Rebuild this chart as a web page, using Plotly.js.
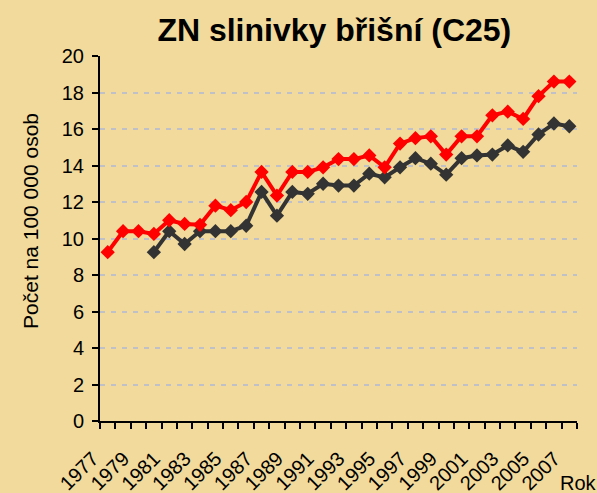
<!DOCTYPE html>
<html>
<head>
<meta charset="utf-8">
<script src="https://cdn.plot.ly/plotly-3.0.1.min.js"></script>
<style>html,body{margin:0;padding:0;background:#F1DA9B;}#chart{width:597px;height:493px;}</style>
</head>
<body>
<div id="chart"></div>
<script>
const yearsRed = [1977,1978,1979,1980,1981,1982,1983,1984,1985,1986,1987,1988,1989,1990,1991,1992,1993,1994,1995,1996,1997,1998,1999,2000,2001,2002,2003,2004,2005,2006,2007];
const valuesRed = [9.25,10.4,10.4,10.25,11.0,10.8,10.75,11.8,11.55,12.0,13.65,12.35,13.65,13.65,13.9,14.35,14.35,14.55,13.9,15.2,15.5,15.6,14.6,15.6,15.6,16.75,16.95,16.55,17.8,18.6,18.6];
const yearsDark = [1980,1981,1982,1983,1984,1985,1986,1987,1988,1989,1990,1991,1992,1993,1994,1995,1996,1997,1998,1999,2000,2001,2002,2003,2004,2005,2006,2007];
const valuesDark = [9.25,10.4,9.7,10.4,10.4,10.4,10.7,12.55,11.25,12.55,12.45,13.0,12.9,12.9,13.55,13.35,13.9,14.4,14.1,13.5,14.4,14.55,14.6,15.1,14.75,15.7,16.3,16.15];
const xTickVals = [1977,1979,1981,1983,1985,1987,1989,1991,1993,1995,1997,1999,2001,2003,2005,2007];
const xTickText = xTickVals.map(String);
const yTickVals = [0,2,4,6,8,10,12,14,16,18,20];

const font = "Liberation Sans, Arial, sans-serif";
const traces = [
  {x: yearsDark, y: valuesDark, type: 'scatter', mode: 'lines+markers',
   line: {color: '#333333', width: 4}, marker: {symbol: 'diamond', size: 11, color: '#333333'}},
  {x: yearsRed, y: valuesRed, type: 'scatter', mode: 'lines+markers',
   line: {color: '#FF0000', width: 4}, marker: {symbol: 'diamond', size: 11, color: '#FF0000'}}
];
const layout = {
  width: 597, height: 493,
  paper_bgcolor: '#F1DA9B', plot_bgcolor: '#F1DA9B',
  margin: {l: 100, r: 20, t: 56, b: 72},
  showlegend: false,
  font: {family: font, color: '#000', size: 20},
  title: {text: 'ZN slinivky břišní (C25)', font: {family: font, size: 32, color: '#000', weight: 'bold'},
          x: 0.56, xanchor: 'center', y: 0.94, yanchor: 'middle'},
  xaxis: {
    range: [1976.5, 2007.5], tickmode: 'array', tickvals: xTickVals, ticktext: xTickText,
    tickangle: -45, ticks: '', showgrid: false, zeroline: false,
    showline: true, linecolor: '#000', linewidth: 2,
    tickfont: {size: 20, family: font},
    ticklabelshift: -15, ticklabelstandoff: 16,
    minor: {ticks: 'outside', ticklen: 6, tickwidth: 2, tickcolor: '#000', dtick: 1, tick0: 1976.5, showgrid: false}
  },
  yaxis: {
    range: [0, 20], tickmode: 'array', tickvals: yTickVals,
    ticks: 'outside', ticklen: 6, tickwidth: 2, tickcolor: '#000',
    showline: true, linecolor: '#000', linewidth: 2,
    showgrid: true, gridcolor: '#C0C0C8', gridwidth: 2, griddash: '5px,6px',
    zeroline: false, tickfont: {size: 20, family: font}, ticklabelstandoff: 4
  },
  annotations: [
    {text: 'Počet na 100 000 osob', xref: 'paper', yref: 'paper', x: 0, y: 0.548,
     xanchor: 'center', yanchor: 'middle', xshift: -69, textangle: -90,
     showarrow: false, font: {size: 21, family: font}},
    {text: 'Rok', xref: 'paper', yref: 'paper', x: 0.960, y: -0.17, xanchor: 'left', yanchor: 'middle',
     showarrow: false, font: {size: 20, family: font}}
  ]
};
Plotly.newPlot('chart', traces, layout, {displayModeBar: false, staticPlot: true});
</script>
</body>
</html>
